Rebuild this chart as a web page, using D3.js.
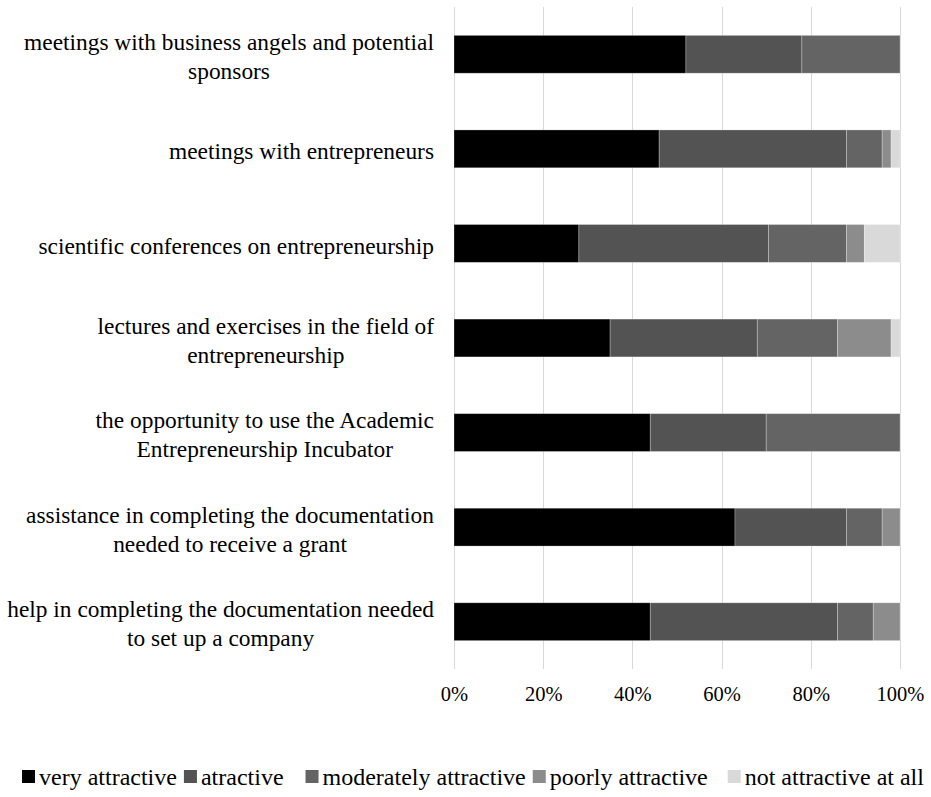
<!DOCTYPE html>
<html>
<head>
<meta charset="utf-8">
<script src="https://cdn.jsdelivr.net/npm/d3@7"></script>
<style>
  body { margin: 0; background: #fff; }
  svg { display: block; }
</style>
</head>
<body>
<svg id="chart" width="931" height="797"></svg>
<script>
const categories = [
  ["meetings with business angels and potential", "sponsors"],
  ["meetings with entrepreneurs"],
  ["scientific conferences on entrepreneurship"],
  ["lectures and exercises in the field of", "entrepreneurship"],
  ["the opportunity to use the Academic", "Entrepreneurship Incubator"],
  ["assistance in completing the documentation", "needed to receive a grant"],
  ["help in completing the documentation needed", "to set up a company"]
];
const seriesNames = ["very attractive", "atractive", "moderately attractive", "poorly attractive", "not attractive at all"];
const veryAttractive     = [52, 46, 28,   35, 44, 63, 44];
const attractive         = [26, 42, 42.5, 33, 26, 25, 42];
const moderately         = [22,  8, 17.5, 18, 30,  8,  8];
const poorly             = [ 0,  2,  4,   12,  0,  4,  6];
const notAtAll           = [ 0,  2,  8,    2,  0,  0,  0];
const tickValues = [0, 0.2, 0.4, 0.6, 0.8, 1.0];
const colors = ["#000000", "#535353", "#646464", "#8c8c8c", "#d9d9d9"];

const seriesValues = [veryAttractive, attractive, moderately, poorly, notAtAll];
const FONT = "'Liberation Serif', 'Times New Roman', serif";

const svg = d3.select("#chart");
const plot = { left: 454, right: 900, top: 7, bottom: 669 };

const x = d3.scaleLinear().domain([0, 1]).range([plot.left, plot.right]);
const y = d3.scaleBand().domain(d3.range(categories.length))
  .range([plot.top, plot.bottom]).paddingInner(0.6).paddingOuter(0.3);

// gridlines
svg.append("g").selectAll("line").data(tickValues).join("line")
  .attr("x1", d => Math.round(x(d)) + 0.5).attr("x2", d => Math.round(x(d)) + 0.5)
  .attr("y1", plot.top).attr("y2", plot.bottom)
  .attr("stroke", "#d9d9d9").attr("stroke-width", 1);

// stacked data
const rows = categories.map((c, i) => {
  const obj = { idx: i };
  seriesNames.forEach((s, k) => obj[s] = seriesValues[k][i]);
  return obj;
});
const stack = d3.stack().keys(seriesNames).offset(d3.stackOffsetExpand);
const stacked = stack(rows);

svg.append("g").selectAll("g").data(stacked).join("g")
  .attr("fill", (d, k) => colors[k])
  .selectAll("rect").data(d => d).join("rect")
  .attr("x", d => x(d[0]))
  .attr("width", d => Math.max(0, x(d[1]) - x(d[0])))
  .attr("y", (d, i) => y(i))
  .attr("height", y.bandwidth())
  .attr("stroke", "#ffffff").attr("stroke-opacity", 0.35).attr("stroke-width", 0.75);

// x axis tick labels
const xAxis = d3.axisBottom(x).tickValues(tickValues).tickFormat(d3.format(".0%")).tickSize(0).tickPadding(0);
const ax = svg.append("g").attr("transform", `translate(0, ${plot.bottom + 17})`).call(xAxis);
ax.select(".domain").remove();
ax.selectAll("text").attr("font-family", FONT).attr("font-size", 20.5).attr("fill", "#000");

// category labels: block right-aligned, lines centered within block
const labelRight = 434;
const lineH = 29;
const labG = svg.append("g").attr("font-family", FONT).attr("font-size", 23.4).attr("fill", "#000");
categories.forEach((lines, i) => {
  const cy = y(i) + y.bandwidth() / 2 + 2;
  const g = labG.append("g");
  const texts = lines.map((ln, j) => g.append("text")
    .attr("y", cy + (j - (lines.length - 1) / 2) * lineH)
    .attr("dy", "0.35em")
    .attr("text-anchor", "middle")
    .text(ln));
  const maxW = d3.max(texts, t => t.node().getComputedTextLength());
  texts.forEach(t => t.attr("x", labelRight - maxW / 2));
});

// legend
const legY = 777;
const legFont = 24;
const gaps = [7, 22, 7, 20];
const leg = svg.append("g").attr("font-family", FONT).attr("font-size", legFont);
const items = seriesNames.map((s, k) => {
  const g = leg.append("g");
  g.append("rect").attr("width", 13).attr("height", 13).attr("y", legY - 7).attr("fill", colors[k]);
  const t = g.append("text").attr("x", 17).attr("y", legY).attr("dy", "0.32em").text(s);
  return { g, w: 17 + t.node().getComputedTextLength() };
});
let cx = 22;
items.forEach((it, k) => { it.g.attr("transform", `translate(${cx},0)`); cx += it.w + (gaps[k] || 0); });
</script>
</body>
</html>
